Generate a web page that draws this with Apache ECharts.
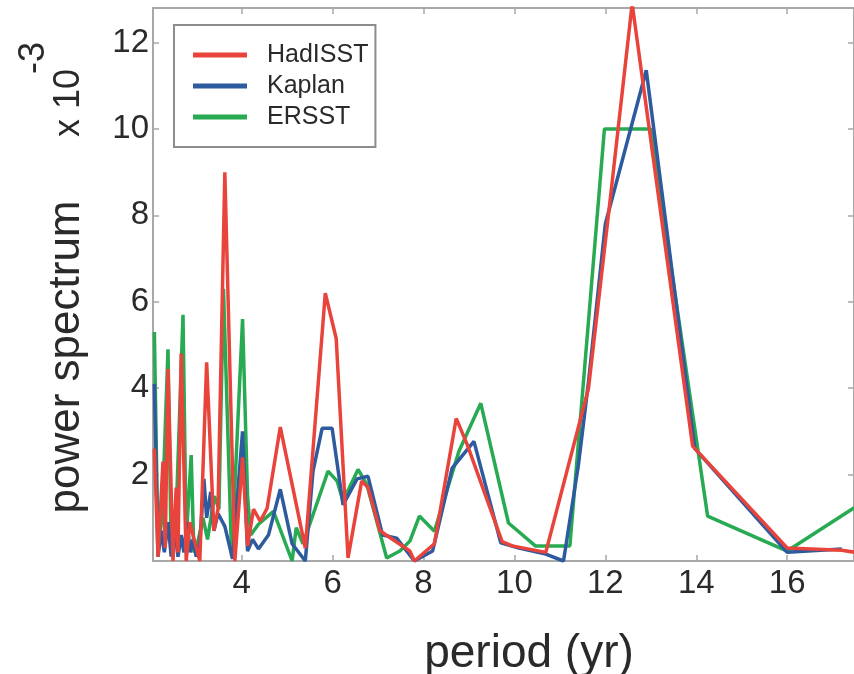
<!DOCTYPE html>
<html>
<head>
<meta charset="utf-8">
<script src="https://cdn.jsdelivr.net/npm/echarts@6/dist/echarts.min.js"></script>
<style>
  html, body { margin: 0; padding: 0; background: #fff; }
  #chart { width: 854px; height: 674px; }
</style>
</head>
<body>
<div id="chart"></div>
<script>
// HadISST
var hadPeriod = [2.08, 2.16, 2.27, 2.32, 2.38, 2.49, 2.56, 2.60, 2.67, 2.78, 2.86, 2.93, 3.08, 3.23, 3.39, 3.48, 3.63, 3.85, 4.02, 4.13,
                 4.26, 4.41, 4.56, 4.85, 5.40, 5.84, 6.08, 6.34, 6.64, 6.78, 7.04, 7.70, 7.80, 8.24, 8.72, 8.96, 9.73, 9.95, 10.69, 11.63,
                 12.10, 12.59, 13.92, 16.0, 17.2, 17.5];
var hadPower  = [2.6, 0.1, 2.3, 0.3, 4.45, 0.0, 1.7, 0.2, 4.8, 0.0, 0.9, 0.6, 0.0, 4.6, 0.7, 1.2, 9.0, 0.0, 2.4, 0.35,
                 1.2, 0.92, 1.22, 3.1, 0.3, 6.2, 5.15, 0.07, 1.85, 1.7, 0.7, 0.23, 0.0, 0.4, 3.3, 2.7, 0.45, 0.35, 0.2, 4.0,
                 8.3, 12.9, 2.66, 0.3, 0.25, 0.2];
// Kaplan
var kapPeriod = [2.08, 2.16, 2.23, 2.30, 2.38, 2.45, 2.52, 2.60, 2.67, 2.73, 2.80, 2.87, 2.93, 3.00, 3.08, 3.17, 3.23, 3.32, 3.39, 3.48,
                 3.63, 3.80, 4.02, 4.13, 4.24, 4.37, 4.59, 4.85, 5.11, 5.40, 5.57, 5.77, 5.99, 6.23, 6.54, 6.78, 7.10, 7.41, 7.80, 8.20,
                 8.63, 9.11, 9.70, 10.10, 10.69, 11.08, 11.41, 11.63, 12.0, 12.9, 13.97, 16.0, 17.2];
var kapPower  = [4.1, 0.1, 0.7, 0.2, 0.9, 0.1, 0.8, 0.1, 0.6, 0.2, 0.9, 0.2, 0.5, 0.1, 0.4, 1.9, 1.0, 1.6, 0.7, 1.1,
                 0.8, 0.05, 3.0, 0.23, 0.5, 0.28, 0.6, 1.66, 0.4, 0.0, 2.08, 3.07, 3.07, 1.3, 1.9, 1.96, 0.6, 0.53, 0.0, 0.23,
                 2.15, 2.77, 0.42, 0.3, 0.16, 0.0, 2.24, 4.15, 7.8, 11.36, 2.6, 0.2, 0.28];
// ERSST
var ersPeriod = [2.08, 2.16, 2.25, 2.38, 2.45, 2.55, 2.71, 2.78, 2.89, 2.95, 3.05, 3.15, 3.25, 3.40, 3.50, 3.60, 3.78, 4.02, 4.13, 4.20,
                 4.37, 4.70, 5.11, 5.20, 5.35, 5.90, 6.10, 6.23, 6.56, 6.75, 7.19, 7.48, 7.70, 7.91, 8.24, 8.78, 9.26, 9.87, 10.46, 11.22,
                 11.98, 13.0, 14.25, 16.0, 17.5];
var ersPower  = [5.3, 0.3, 1.0, 4.9, 0.2, 0.8, 5.7, 0.5, 2.45, 0.2, 0.5, 1.0, 0.5, 1.5, 1.2, 6.3, 0.1, 5.6, 1.5, 0.6,
                 0.85, 1.15, 0.0, 0.77, 0.4, 2.08, 1.85, 1.39, 2.12, 1.78, 0.07, 0.23, 0.46, 1.04, 0.69, 2.54, 3.65, 0.88, 0.35, 0.35,
                 10.0, 10.0, 1.04, 0.23, 1.25];

var xTicks = [4, 6, 8, 10, 12, 14, 16];
var yTicks = [2, 4, 6, 8, 10, 12];
var seriesNames = ['HadISST', 'Kaplan', 'ERSST'];

function zip(a, b) {
  var out = [];
  for (var i = 0; i < a.length; i++) out.push([a[i], b[i]]);
  return out;
}

var axisGrey = '#a8a8a8';
var textCol = '#2a2a2a';
var font = 'Liberation Sans, Arial, sans-serif';

var chart = echarts.init(document.getElementById('chart'));

function xAxisDef(pos, labels) {
  return {
    type: 'value', position: pos, min: 2.05, max: 17.47,
    axisLine: { show: true, onZero: false, lineStyle: { color: axisGrey, width: 2 } },
    axisTick: { show: true, inside: true, length: 6, customValues: xTicks, lineStyle: { color: axisGrey, width: 1.5 } },
    axisLabel: { show: labels, customValues: xTicks, margin: 6, fontSize: 33, color: textCol, fontFamily: font },
    splitLine: { show: false }
  };
}
function yAxisDef(pos, labels) {
  return {
    type: 'value', position: pos, min: 0, max: 12.8,
    axisLine: { show: true, onZero: false, lineStyle: { color: axisGrey, width: 2 } },
    axisTick: { show: true, inside: true, length: 6, customValues: yTicks, lineStyle: { color: axisGrey, width: 1.5 } },
    axisLabel: { show: labels, customValues: yTicks, margin: 4, fontSize: 33, color: textCol, fontFamily: font },
    splitLine: { show: false }
  };
}

var option = {
  animation: false,
  backgroundColor: '#fff',
  grid: { left: 153, right: -2, top: 8, bottom: 113 },
  xAxis: [xAxisDef('bottom', true), xAxisDef('top', false)],
  yAxis: [yAxisDef('left', true), yAxisDef('right', false)],
  legend: {
    data: seriesNames,
    orient: 'vertical',
    left: 174, top: 25,
    padding: [17, 7, 17, 19],
    itemGap: 5,
    itemWidth: 54, itemHeight: 5,
    icon: 'rect',
    backgroundColor: '#fff',
    borderColor: '#8c8c8c', borderWidth: 2,
    textStyle: { fontSize: 25, lineHeight: 26, color: textCol, fontFamily: font, padding: [0, 0, 0, 15] }
  },
  graphic: [
    { type: 'text', x: 67, y: 357, rotation: Math.PI / 2,
      style: { text: 'power spectrum', font: '44px ' + font, fill: textCol, textAlign: 'center', textVerticalAlign: 'middle' } },
    { type: 'text', x: 69, y: 103, rotation: Math.PI / 2,
      style: { text: 'x 10', font: '36px ' + font, fill: textCol, textAlign: 'center', textVerticalAlign: 'middle' } },
    { type: 'text', x: 34, y: 58, rotation: Math.PI / 2,
      style: { text: '-3', font: '36px ' + font, fill: textCol, textAlign: 'center', textVerticalAlign: 'middle' } },
    { type: 'text', x: 529, y: 654,
      style: { text: 'period (yr)', font: '46px ' + font, fill: textCol, textAlign: 'center', textVerticalAlign: 'middle' } }
  ],
  series: [
    { name: 'ERSST', type: 'line', data: zip(ersPeriod, ersPower), showSymbol: false, symbol: 'none',
      color: '#27aa52', lineStyle: { width: 3.5 } },
    { name: 'Kaplan', type: 'line', data: zip(kapPeriod, kapPower), showSymbol: false, symbol: 'none',
      color: '#2e5a9e', lineStyle: { width: 3.5 } },
    { name: 'HadISST', type: 'line', data: zip(hadPeriod, hadPower), showSymbol: false, symbol: 'none',
      color: '#e8443c', lineStyle: { width: 3.5 } }
  ]
};

chart.setOption(option);
</script>
</body>
</html>
